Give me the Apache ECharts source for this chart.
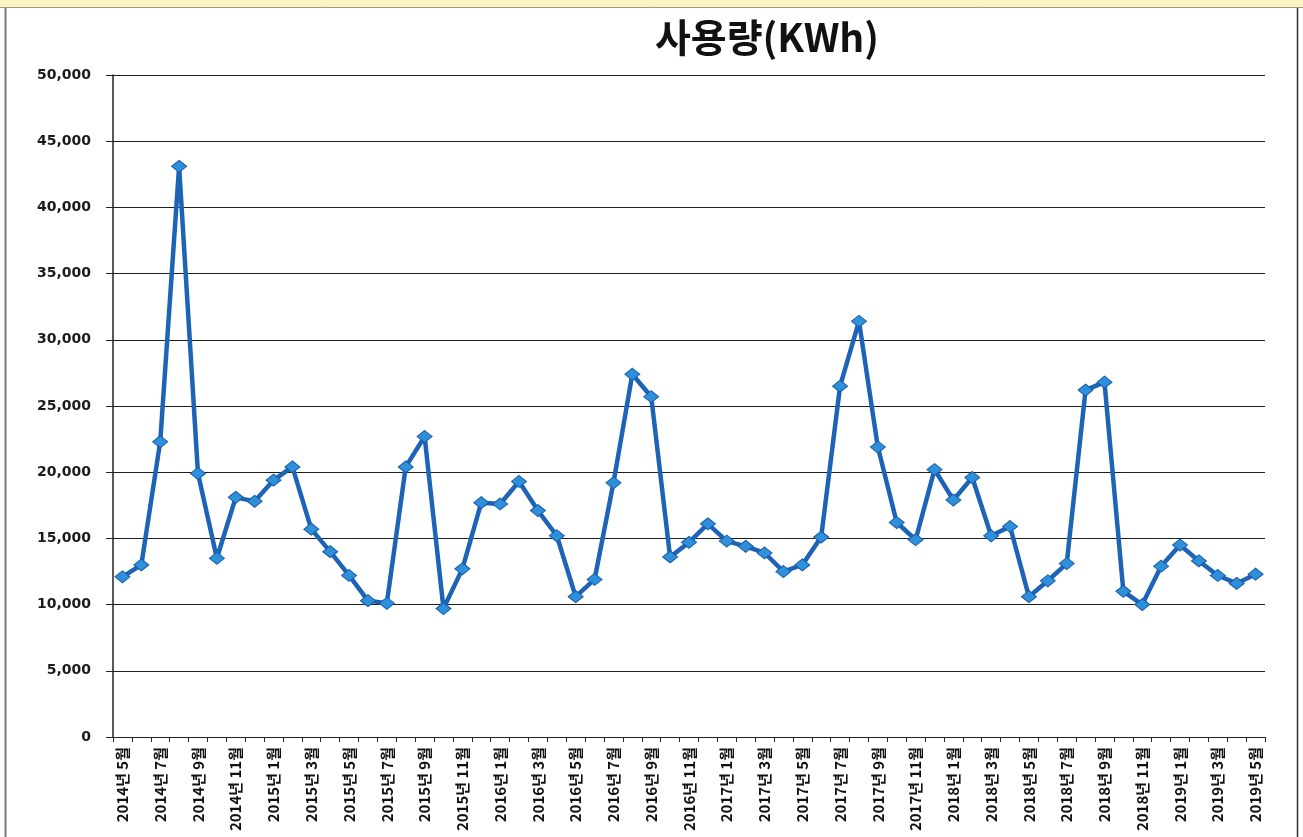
<!DOCTYPE html>
<html>
<head>
<meta charset="utf-8">
<script src="https://cdn.jsdelivr.net/npm/echarts@6/dist/echarts.min.js"></script>
<style>
html,body{margin:0;padding:0;background:#fff;}
#c{width:1303px;height:837px;}
</style>
</head>
<body>
<div id="c"></div>
<script>
// Months from 2014-05 to 2019-05
const years = [2014,2014,2014,2014,2014,2014,2014,2014,
  2015,2015,2015,2015,2015,2015,2015,2015,2015,2015,2015,2015,
  2016,2016,2016,2016,2016,2016,2016,2016,2016,2016,2016,2016,
  2017,2017,2017,2017,2017,2017,2017,2017,2017,2017,2017,2017,
  2018,2018,2018,2018,2018,2018,2018,2018,2018,2018,2018,2018,
  2019,2019,2019,2019,2019];
const months = [5,6,7,8,9,10,11,12,
  1,2,3,4,5,6,7,8,9,10,11,12,
  1,2,3,4,5,6,7,8,9,10,11,12,
  1,2,3,4,5,6,7,8,9,10,11,12,
  1,2,3,4,5,6,7,8,9,10,11,12,
  1,2,3,4,5];
const categories = years.map((y, i) => y + '년 ' + months[i] + '월');

const usage = [
  12100, 13000, 22300, 43100, 19900, 13500, 18100, 17800,
  19400, 20400, 15700, 14000, 12200, 10300, 10100, 20400, 22700, 9700, 12700, 17700,
  17600, 19300, 17100, 15200, 10600, 11900, 19200, 27400, 25700, 13600, 14700, 16100,
  14800, 14400, 13900, 12500, 13000, 15100, 26500, 31400, 21900, 16200, 14900, 20200,
  17900, 19600, 15200, 15900, 10600, 11800, 13100, 26200, 26800, 11000, 10000, 12900,
  14500, 13300, 12200, 11600, 12300
];

const yTicks = { min: 0, max: 50000, interval: 5000 };
const titleText = '사용량(KWh)';

const chart = echarts.init(document.getElementById('c'), null, { renderer: 'canvas' });
chart.setOption({
  backgroundColor: '#ffffff',
  animation: false,
  title: {
    text: titleText,
    left: 762,
    textAlign: 'center',
    top: 13,
    textStyle: { fontFamily: 'Noto Sans CJK KR', fontWeight: 'bold', fontSize: 39, color: '#111' }
  },
  graphic: [
    { type: 'rect', shape: { x: 0, y: 0, width: 1303, height: 7 }, style: { fill: '#fbf5c2' }, silent: true },
    { type: 'line', shape: { x1: 0, y1: 7.5, x2: 1303, y2: 7.5 }, style: { stroke: '#9a9a80', lineWidth: 1 }, silent: true },
    { type: 'line', shape: { x1: 5.5, y1: 8, x2: 5.5, y2: 837 }, style: { stroke: '#777', lineWidth: 2 }, silent: true },
    { type: 'line', shape: { x1: 1297.5, y1: 8, x2: 1297.5, y2: 837 }, style: { stroke: '#333', lineWidth: 1.5 }, silent: true }
  ],
  grid: { left: 113, right: 38, top: 75, bottom: 100, containLabel: false },
  xAxis: {
    type: 'category',
    data: categories,
    boundaryGap: true,
    axisLine: { lineStyle: { color: '#222', width: 1 } },
    axisTick: { show: true, interval: 0, length: 5, lineStyle: { color: '#222' } },
    axisLabel: {
      interval: 1,
      rotate: 90,
      margin: 10,
      fontFamily: 'Noto Sans CJK KR',
      fontWeight: 'bold',
      fontSize: 15,
      color: '#111'
    },
    splitLine: { show: false }
  },
  yAxis: {
    type: 'value',
    min: yTicks.min,
    max: yTicks.max,
    interval: yTicks.interval,
    axisLine: { show: true, lineStyle: { color: '#222', width: 1.5 } },
    axisTick: { show: true, length: 7, lineStyle: { color: '#222' } },
    axisLabel: {
      margin: 22,
      fontFamily: 'DejaVu Sans',
      fontWeight: 'bold',
      fontSize: 14,
      color: '#1a1a1a',
      formatter: v => v.toLocaleString('en-US')
    },
    splitLine: { show: true, lineStyle: { color: '#1e1e1e', width: 1 } }
  },
  series: [{
    type: 'line',
    data: usage,
    symbol: 'diamond',
    symbolSize: [15, 12],
    lineStyle: { color: '#1d63b6', width: 4.5 },
    itemStyle: { color: '#2e8fda', borderColor: '#1b5ca8', borderWidth: 1 },
    z: 5
  }]
});
</script>
</body>
</html>
